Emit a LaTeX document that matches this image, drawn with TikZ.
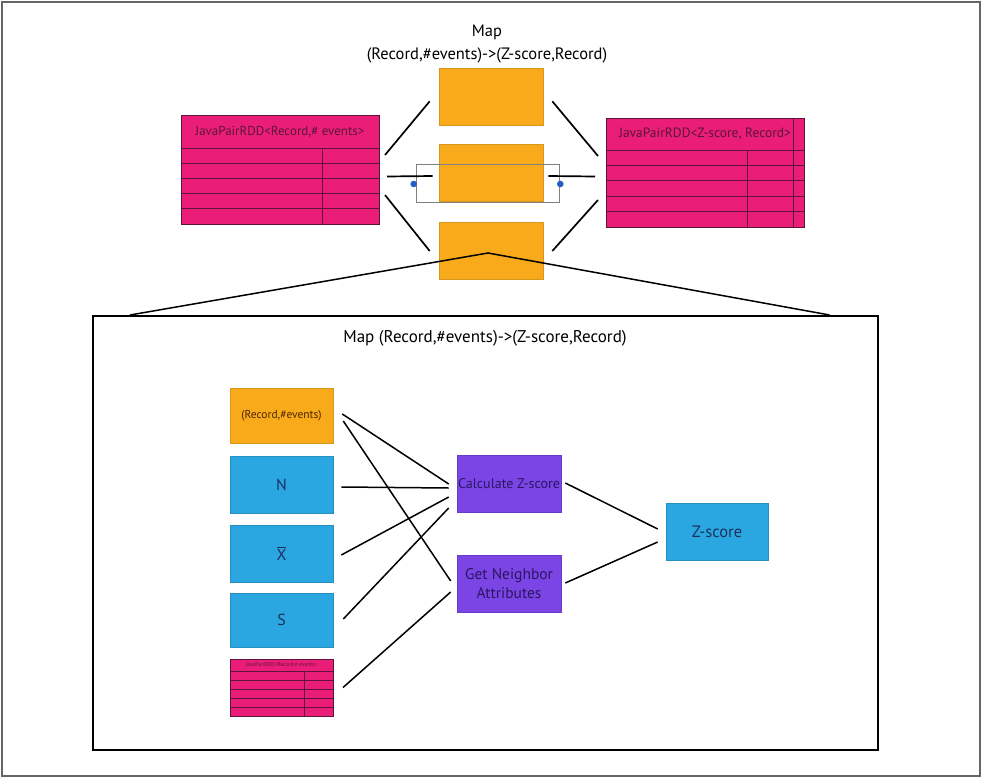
\documentclass[tikz,border=0pt]{standalone}
\usepackage{fontspec}
\setmainfont{PT Sans}
\usetikzlibrary{calc}
\definecolor{orangec}{HTML}{F9AA1A}
\definecolor{orangeb}{HTML}{D8961E}
\definecolor{bluec}{HTML}{2AA7E0}
\definecolor{blueb}{HTML}{2790C0}
\definecolor{purplec}{HTML}{7B45E6}
\definecolor{purpleb}{HTML}{6A3AC8}
\definecolor{pinkc}{HTML}{EA1E79}
\definecolor{pinkl}{HTML}{5C1538}
\definecolor{pinkd}{HTML}{C8145F}
\definecolor{navy}{HTML}{1D3060}
\definecolor{purpt}{HTML}{2A1660}
\definecolor{dotc}{HTML}{2060C0}
\tikzset{
  fs/.style={font=\fontsize{#1}{#1}\selectfont},
  obox/.style={draw=orangeb, line width=0.6pt, fill=orangec, minimum width=104, minimum height=57, inner sep=0},
  bbox/.style={draw=blueb, line width=0.6pt, fill=bluec, minimum width=103, minimum height=57, inner sep=0, text=navy},
  pbox/.style={draw=purpleb, line width=0.6pt, fill=purplec, minimum width=104, minimum height=57, inner sep=0, text=purpt, align=center},
  rddbox/.style={draw=pinkl, line width=1pt, fill=pinkc, inner sep=0},
  rddline/.style={draw=pinkl, line width=0.9pt},
  conn/.style={draw=black, line width=1.7pt},
  thinconn/.style={draw=black, line width=1.5pt},
}
\newcommand\rddtab[9]{%
  \node[rddbox, anchor=north west, minimum width={(#4)-(#2)}, minimum height={(#5)-(#3)}] (#1) at (#2,#3) {};
  \node[fs=#9, text=pinkl, inner sep=0] (#1-h) at ({(#2+#4)/2},{(#3+#6)/2}) {#8};
  \draw[rddline] (#2,#6) -- (#4,#6);
  \foreach \k in {1,...,4} \draw[rddline] (#2,{#6+\k*(#5-#6)/5}) -- (#4,{#6+\k*(#5-#6)/5});
  \draw[rddline] (#7,#6) -- (#7,#5);
}
\begin{document}
\begin{tikzpicture}[x=1pt,y=-1pt]
\useasboundingbox (0,0) rectangle (984,778);
% outer frame
\draw[draw=gray!80!black, line width=1.4pt] (2,2) rectangle (980,776);

% title
\node[fs=16.5, align=center] (title) at (487,44) {Map\\[7pt](Record,\#events)->(Z-score,Record)};

% pink tables
\rddtab{lt}{181}{115}{379}{224}{148}{322}{JavaPairRDD<Record,\# events>}{13}
\fill[pinkd] (793,118) rectangle (804,227);
\rddtab{rt}{606}{118}{804}{227}{150}{747}{JavaPairRDD<Z-score, Record>}{13.5}
\draw[rddline] (793,118) -- (793,227);

% orange map boxes
\node[obox] (o1) at (491,96.5) {};
\node[obox] (o2) at (491,172.5) {};
\node[obox] (o3) at (491,251) {};

% selection rectangle and handles
\node[draw=gray, line width=0.6pt, minimum width=143, minimum height=38, inner sep=0] (sel) at (487.5,183) {};
\fill[dotc] (sel.west) ++(-2,1) circle (3.3);
\fill[dotc] (sel.east) ++(1,1) circle (3.3);

% top connectors
\draw[conn] ([shift={(5,40)}]lt.north east) -- ([shift={(-9,-24)}]o1.south west);
\draw[conn] ([shift={(7,6.5)}]lt.east) -- ([shift={(-6,3.5)}]o2.west);
\draw[conn] ([shift={(5,-30)}]lt.south east) -- ([shift={(-9,0)}]o3.west);
\draw[conn] ([shift={(9,-24)}]o1.south east) -- ([shift={(-8,38)}]rt.north west);
\draw[conn] ([shift={(5,3.5)}]o2.east) -- ([shift={(-11,3.5)}]rt.west);
\draw[conn] ([shift={(9,0)}]o3.east) -- ([shift={(-8,-28)}]rt.south west);

% lower detail box
\node[draw=black, line width=1.6pt, anchor=north west, minimum width=785, minimum height=434, inner sep=0] (lb) at (92,315) {};
\draw[thinconn] ([shift={(38,0)}]lb.north west) -- ([shift={(-3,2)}]o3.center) -- ([shift={(-49,0)}]lb.north east);
\node[fs=17] (ltitle) at (485,338) {Map (Record,\#events)->(Z-score,Record)};

% left column
\node[obox, minimum width=103, minimum height=55, text=orange!30!black, fs=11.5] (rec) at (281.5,415.5) {(Record,\#events)};
\node[bbox, fs=16] (n) at (281.5,484.5) {N};
\node[bbox, fs=16] (xb) at (281.5,553.5) {$\overline{\mbox{X}}$};
\node[bbox, fs=16, minimum height=54] (s) at (281.5,620) {S};
\rddtab{st}{230}{659}{333}{716}{671}{304}{JavaPairRDD<Record,\# events>}{5.5}

% purple boxes
\node[pbox, fs=14] (calc) at (509,483.5) {Calculate Z-score};
\node[pbox, fs=15.5] (nb) at (509,583.5) {Get Neighbor\\[3pt]Attributes};
\node[bbox, fs=16.5, minimum width=102] (z) at (717,531.5) {Z-score};

% lower connectors
\draw[thinconn] ([shift={(9,-1.5)}]rec.east) -- ([shift={(-8,0.5)}]calc.west);
\draw[thinconn] ([shift={(10,5.5)}]rec.east) -- ([shift={(-6,-2.5)}]nb.west);
\draw[thinconn] ([shift={(8,2.5)}]n.east) -- ([shift={(-8,4.5)}]calc.west);
\draw[thinconn] ([shift={(8,1.5)}]xb.east) -- ([shift={(-8,13.5)}]calc.west);
\draw[thinconn] ([shift={(10,-1)}]s.east) -- ([shift={(-8,24.5)}]calc.west);
\draw[thinconn] ([shift={(9,-0.5)}]st.east) -- ([shift={(-6,8.5)}]nb.west);
\draw[thinconn] ([shift={(4,-0.5)}]calc.east) -- ([shift={(-8,-2.5)}]z.west);
\draw[thinconn] ([shift={(4,-0.5)}]nb.east) -- ([shift={(-8,10.5)}]z.west);
\end{tikzpicture}
\end{document}
